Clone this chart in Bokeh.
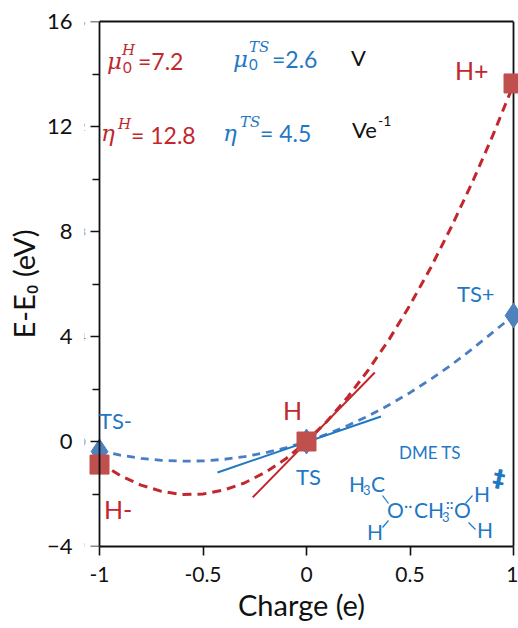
from bokeh.plotting import figure
from bokeh.models import Label, Range1d, FixedTicker, LinearAxis
from bokeh.embed import file_html
from bokeh.resources import INLINE

charge = [-1.0,-0.9,-0.8,-0.7,-0.6,-0.5,-0.4,-0.3,-0.2,-0.1,0.0,0.1,0.2,0.3,0.4,0.5,0.6,0.7,0.8,0.9,1.0]
e_h = [-0.8,-1.3,-1.66,-1.9,-2.02,-2.0,-1.85,-1.58,-1.18,-0.66,0.0,0.78,1.7,2.74,3.9,5.2,6.62,8.18,9.86,11.66,13.6]
e_ts = [-0.35,-0.52,-0.64,-0.72,-0.75,-0.74,-0.68,-0.58,-0.43,-0.24,0.0,0.28,0.61,0.98,1.4,1.86,2.37,2.92,3.52,4.16,4.8]
marker_q = [-1, 0, 1]
marker_h = [-0.88, 0, 13.64]
marker_ts = [-0.38, 0, 4.8]
tan_h_q = [-0.26, 0.33]
tan_h_e = [-2.13, 2.63]
tan_ts_q = [-0.43, 0.36]
tan_ts_e = [-1.18, 0.95]
x_ticks = [-1, -0.5, 0, 0.5, 1]
x_labels = ["-1", "-0.5", "0", "0.5", "1"]
y_ticks = [-4, 0, 4, 8, 12, 16]
y_minor = [-2, 2, 6, 10, 14]

RED = "#C1272D"; BLUE = "#1F78C4"; FONT = "Lato"; MATH = "DejaVu Serif"; INK = "#111111"

PX = 207.0
p = figure(width=518, height=628, output_backend="svg", toolbar_location=None,
           x_range=Range1d(-1 - 15 / PX, 1 + 5 / PX), y_range=Range1d(-4, 16),
           min_border_left=84, min_border_right=0, min_border_top=21, min_border_bottom=82,
           background_fill_color="white", border_fill_color="white",
           y_axis_location=None, x_axis_location=None)
p.grid.visible = False
p.outline_line_color = None

# labelled axis on the panel edge, without its own line or ticks
ylab = LinearAxis(ticker=FixedTicker(ticks=y_ticks), axis_line_color=None, major_tick_line_color=None,
                  minor_tick_line_color=None, major_tick_in=0, major_tick_out=0,
                  major_label_standoff=12, major_label_text_font=FONT, major_label_text_font_size="22px",
                  major_label_text_color=INK, axis_label="E-E\u2080 (eV)", axis_label_text_font=FONT,
                  axis_label_text_font_size="29px", axis_label_text_font_style="normal",
                  axis_label_text_color=INK, axis_label_standoff=3)
p.add_layout(ylab, "left")
# line and ticks at charge -1
yline = LinearAxis(fixed_location=x_ticks[0], ticker=FixedTicker(ticks=y_ticks, minor_ticks=y_minor),
                   axis_line_color=INK, axis_line_width=1.8, major_tick_line_color=INK, major_tick_line_width=1.6,
                   minor_tick_line_color=INK, minor_tick_line_width=1.6, major_tick_in=0, major_tick_out=9,
                   minor_tick_in=0, minor_tick_out=7)
p.add_layout(yline, "left")
top = LinearAxis(bounds=(-1, 1), major_tick_out=0, major_tick_in=0,
                 minor_tick_out=0, minor_tick_in=0, axis_line_color=INK, axis_line_width=1.8,
                 ticker=FixedTicker(ticks=[]))
p.add_layout(top, "above")
xax = LinearAxis(bounds=(-1, 1), ticker=FixedTicker(ticks=x_ticks), major_label_overrides=dict(zip(x_ticks, x_labels)),
                 axis_line_color=INK, axis_line_width=1.8, major_tick_line_color=INK, major_tick_line_width=1.6,
                 major_tick_in=0, major_tick_out=9, major_label_standoff=11, major_label_text_font=FONT,
                 major_label_text_font_size="21px", major_label_text_color=INK, axis_label="Charge (e)",
                 axis_label_text_font=FONT, axis_label_text_font_size="29px", axis_label_text_font_style="normal",
                 axis_label_text_color=INK, axis_label_standoff=2, axis_label_text_baseline="middle")
p.add_layout(xax, "below")

p.line([x_ticks[-1], x_ticks[-1]], [y_ticks[0], y_ticks[-1]], line_color=INK, line_width=1.8)
p.line(charge, e_ts, line_color="#4A7EC4", line_width=2.8, line_dash="8 6")
p.line(charge, e_h, line_color=RED, line_width=3, line_dash="9 6")
p.line(tan_ts_q, tan_ts_e, line_color=BLUE, line_width=2)
p.line(tan_h_q, tan_h_e, line_color=RED, line_width=2)
p.scatter(marker_q, marker_ts, marker="diamond", size=25, color="#4F81BD")
p.scatter(marker_q, marker_h, marker="square", size=19, color="#C0504D")

def dx(px): return (px - 99.0) / PX - 1
def dy(py): return (441.0 - py) / 26.25
def t(s, px, py, size, color, font=FONT, style="normal", angle=0):
    p.add_layout(Label(x=dx(px - 1.5), y=dy(py - 9), text=s, text_font_size=f"{size}px", text_color=color,
                       text_font=font, text_font_style=style, text_baseline="alphabetic", text_align="left",
                       angle=angle))

t("\u03bc", 108, 69, 23, RED, MATH, "italic"); t("H", 123, 58, 15, RED, MATH, "italic"); t("0", 124, 76, 15, RED)
t("=7.2", 139, 69, 23, RED)
t("\u03bc", 234, 67, 23, BLUE, MATH, "italic"); t("TS", 250, 55, 15, BLUE, MATH, "italic"); t("0", 250, 73, 15, BLUE)
t("=2.6", 273, 67, 23, BLUE)
t("V", 352, 66, 22, INK)
t("\u03b7", 102, 141, 23, RED, MATH, "italic"); t("H", 119, 132, 15, RED, MATH, "italic")
t("= 12.8", 132, 143, 23, RED)
t("\u03b7", 224, 141, 23, BLUE, MATH, "italic"); t("TS", 241, 130, 15, BLUE, MATH, "italic")
t("= 4.5", 261, 141, 23, BLUE)
t("Ve", 353, 138, 22, INK); t("-1", 379, 129, 14, INK)
t("H+", 456, 78, 25, RED)
t("TS+", 458, 302, 22, BLUE)
t("TS-", 100, 429, 22, BLUE)
t("H", 284, 418, 25, RED)
t("H-", 105, 517, 25, RED)
t("TS", 297, 485, 22, BLUE)
t("DME TS", 400, 461, 17, BLUE)
t("H", 350, 492, 21, BLUE); t("3", 364, 498, 13, BLUE); t("C", 372, 492, 21, BLUE)
t("O", 388, 518, 21, BLUE); t("\u00b7\u00b7", 405, 513, 16, BLUE)
t("CH", 415, 518, 21, BLUE); t("3", 443, 525, 13, BLUE); t("\u00b7\u00b7", 447, 510, 14, BLUE); t("\u00b7\u00b7", 447, 515, 14, BLUE)
t("O", 455, 518, 21, BLUE)
t("H", 475, 502, 21, BLUE); t("H", 478, 538, 21, BLUE); t("H", 368, 540, 21, BLUE)
t("\u2021", 494, 486, 24, BLUE, "DejaVu Sans", "bold", angle=-0.2)

bonds = [(382, 495, 388, 503), (382, 527, 388, 520), (465, 503, 472, 495), (468, 522, 475, 529)]
for a, b, c, d in bonds:
    p.line([dx(a), dx(c)], [dy(b), dy(d)], line_color=BLUE, line_width=1.2)

open("out.html", "w").write(file_html(p, INLINE))
